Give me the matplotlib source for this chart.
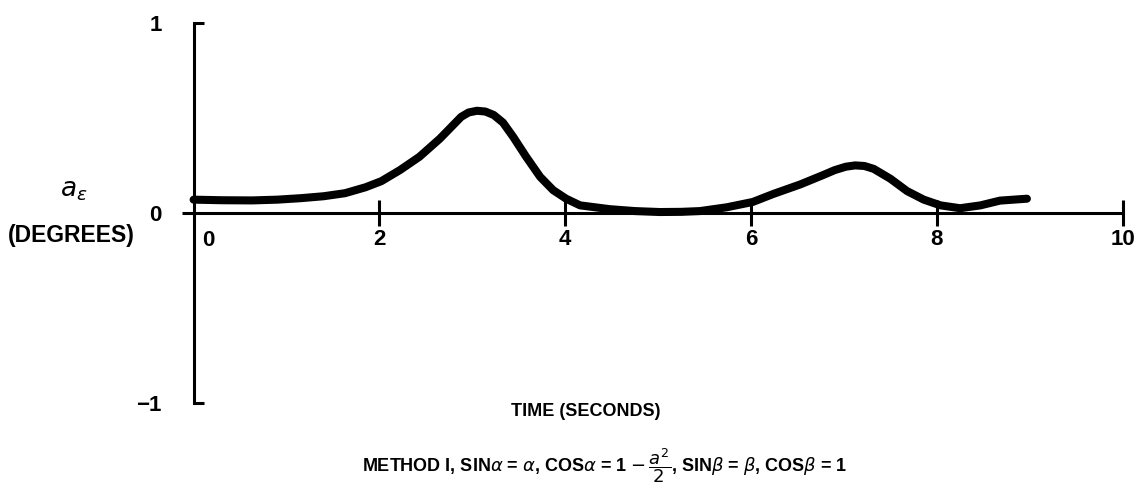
import matplotlib

matplotlib.use("Agg")
import matplotlib.pyplot as plt
from matplotlib.ticker import FixedLocator, FixedFormatter

plt.rcParams["mathtext.fontset"] = "custom"
plt.rcParams["mathtext.rm"] = "DejaVu Sans"
plt.rcParams["mathtext.it"] = "DejaVu Sans:italic"
plt.rcParams["mathtext.bf"] = "DejaVu Sans:bold"

FAMILY = ["Liberation Sans", "DejaVu Sans"]

# values
TIME = [0.0, 0.3, 0.63, 0.9, 1.16, 1.4, 1.63, 1.85, 2.02, 2.22, 2.43, 2.65,
        2.8, 2.88, 2.96, 3.05, 3.14, 3.23, 3.33, 3.44, 3.58, 3.73, 3.87,
        4.01, 4.16, 4.48, 4.75, 5.02, 5.25, 5.45, 5.74, 6.02, 6.24, 6.53,
        6.78, 6.9, 7.02, 7.12, 7.22, 7.32, 7.5, 7.68, 7.86, 8.04, 8.25,
        8.47, 8.68, 8.97]
ALPHA_ERR = [0.07, 0.067, 0.066, 0.07, 0.078, 0.088, 0.104, 0.135, 0.167,
             0.225, 0.295, 0.39, 0.465, 0.505, 0.528, 0.537, 0.533, 0.515,
             0.475, 0.40, 0.295, 0.19, 0.12, 0.075, 0.04, 0.02, 0.01, 0.005,
             0.006, 0.01, 0.03, 0.058, 0.10, 0.15, 0.20, 0.225, 0.243, 0.25,
             0.247, 0.232, 0.18, 0.115, 0.07, 0.04, 0.025, 0.04, 0.065, 0.075]

X_TICKS = [2, 4, 6, 8, 10]
Y_TICKS = [1, -1]
Y_TICK_LABELS = ["1", "\u22121"]

fig = plt.figure(figsize=(11.45, 5.04), dpi=100)
ax = fig.add_axes([0, 0, 1, 1])
ax.set_xlim(-2.084, 10.241)
ax.set_ylim(-1.529, 1.119)

ax.plot(TIME, ALPHA_ERR, color="black", lw=5.8, solid_capstyle="round",
        solid_joinstyle="round")

for side in ("top", "right"):
    ax.spines[side].set_visible(False)
ax.spines["left"].set_position(("data", 0))
ax.spines["bottom"].set_position(("data", 0))
ax.spines["left"].set_bounds(-1, 1)
ax.spines["bottom"].set_bounds(0, 10)
ax.spines["left"].set_linewidth(2.2)
ax.spines["bottom"].set_linewidth(2.2)

ax.xaxis.set_major_locator(FixedLocator(X_TICKS))
ax.xaxis.set_major_formatter(FixedFormatter([str(t) for t in X_TICKS]))
ax.tick_params(axis="x", which="major", direction="inout", length=19,
               width=2.2, pad=2, labelsize=16)

ax.yaxis.set_major_locator(FixedLocator(Y_TICKS))
ax.yaxis.set_major_formatter(FixedFormatter(Y_TICK_LABELS))
ax.yaxis.set_minor_locator(FixedLocator([0]))
ax.yaxis.set_minor_formatter(FixedFormatter(["0"]))
ax.tick_params(axis="y", which="major", direction="in", length=7.5,
               width=2.2, pad=23, labelsize=16)
ax.tick_params(axis="y", which="minor", direction="out", length=9,
               width=2.2, pad=14, labelsize=16)
for lab in ax.get_xticklabels() + ax.get_yticklabels() + ax.get_yticklabels(minor=True):
    lab.set_fontweight("bold")
    lab.set_family(FAMILY)

# "0" on the time axis sits just right of the vertical axis
ax.text(0.09, -0.09, "0", ha="left", va="top", fontsize=16, fontweight="bold",
        family=FAMILY)

ax.text(-1.295, 0.12, r"$a_\epsilon$", ha="center", va="center", fontsize=19)
ax.text(-1.32, -0.12, "(DEGREES)", ha="center", va="center", fontsize=16.5,
        fontweight="bold", family=FAMILY)

ax.text(4.22, -1.045, "TIME (SECONDS)", ha="center", va="center", fontsize=13,
        fontweight="bold", family=FAMILY)
ax.text(4.42, -1.33,
        r"METHOD I, SIN$\alpha$ = $\alpha$, COS$\alpha$ = 1 $-\,\dfrac{a^2}{2}$,"
        r" SIN$\beta$ = $\beta$, COS$\beta$ = 1",
        ha="center", va="center", fontsize=13, fontweight="bold", family=FAMILY)

fig.savefig("out.png", dpi=100)
